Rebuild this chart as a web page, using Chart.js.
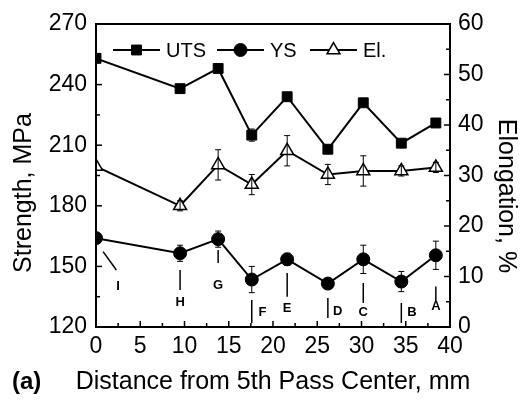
<!DOCTYPE html>
<html>
<head>
<meta charset="utf-8">
<script src="https://cdn.jsdelivr.net/npm/chart.js@4.4.1/dist/chart.umd.min.js"></script>
<style>
  html, body { margin: 0; padding: 0; background: #fff; }
  #wrap { width: 521px; height: 401px; }
</style>
</head>
<body>
<div id="wrap"><canvas id="c" width="521" height="401"></canvas></div>
<script>
// distance of each sample from the 5th pass centre, mm
const distance = [0, 9.5, 13.8, 17.6, 21.6, 26.2, 30.2, 34.5, 38.4];
// strength values, MPa
const uts = [253, 238, 248, 215, 234, 208, 231, 211, 221];
const utsErr = [0, 1, 1, 3, 2, 1, 1, 1, 1];
const ys = [164, 156.5, 163.5, 143.5, 153.5, 141.5, 153.5, 142.5, 155.5];
const ysErr = [0, 4, 4, 6.5, 3, 2, 7, 5, 7];
// elongation, %
const elong = [31.8, 24, 32.1, 28.2, 34.9, 30.2, 30.9, 30.9, 31.6];
const elongErr = [0, 1, 3, 2, 3, 2, 3, 1, 1];
// sample location letters
const locations = ['I', 'H', 'G', 'F', 'E', 'D', 'C', 'B', 'A'];

const FONT = '"Liberation Sans", Arial, sans-serif';

// where the letter pointers go (data units of x and left y axis)
const pointers = [
  {x1: 0.8, y1: 157.3, x2: 2.3, y2: 148.2, tx: 2.5, ty: 140},
  {x1: 9.5, y1: 148.2, x2: 9.5, y2: 138.3, tx: 9.5, ty: 132.4},
  {x1: 13.8, y1: 158.1, x2: 13.8, y2: 151.7, tx: 13.8, ty: 140.5},
  {x1: 17.6, y1: 133.4, x2: 17.6, y2: 122, tx: 18.8, ty: 127},
  {x1: 21.6, y1: 146.7, x2: 21.6, y2: 135, tx: 21.6, ty: 129.4},
  {x1: 26.2, y1: 134.4, x2: 26.2, y2: 124.5, tx: 27.3, ty: 127.6},
  {x1: 30.2, y1: 141.8, x2: 30.2, y2: 131.9, tx: 30.2, ty: 127.1},
  {x1: 34.5, y1: 131.9, x2: 34.5, y2: 122, tx: 35.7, ty: 127.1},
  {x1: 38.4, y1: 140, x2: 38.4, y2: 132.5, tx: 38.4, ty: 130}
];

const errors = [utsErr, ysErr, elongErr];

function pts(ys) {
  return distance.map((d, i) => ({x: d, y: ys[i]}));
}

// box, inward ticks, error bars, pointers, legend, axis titles
const decor = {
  id: 'decor',
  afterDatasetsDraw(chart) {
    const ctx = chart.ctx;
    const a = chart.chartArea;
    const sx = chart.scales.x, sy = chart.scales.y, sy2 = chart.scales.y2;
    ctx.save();
    ctx.strokeStyle = '#000';
    ctx.fillStyle = '#000';

    // error bars
    ctx.lineWidth = 1;
    chart.data.datasets.forEach((ds, k) => {
      const scale = chart.scales[ds.yAxisID];
      ds.data.forEach((p, i) => {
        const e = errors[k][i];
        if (!e) return;
        const px = sx.getPixelForValue(p.x);
        const top = scale.getPixelForValue(p.y + e);
        const bot = scale.getPixelForValue(p.y - e);
        ctx.beginPath();
        ctx.moveTo(px, top); ctx.lineTo(px, bot);
        ctx.moveTo(px - 3, top); ctx.lineTo(px + 3, top);
        ctx.moveTo(px - 3, bot); ctx.lineTo(px + 3, bot);
        ctx.stroke();
      });
    });

    // frame
    ctx.lineWidth = 2;
    ctx.strokeRect(a.left, a.top, a.right - a.left, a.bottom - a.top);

    // inward ticks
    ctx.lineWidth = 1.5;
    const tk = (scale, step, horiz, from, dir) => {
      for (let v = scale.min; v <= scale.max + 1e-6; v += step / 2) {
        const major = Math.abs(Math.round(v / step) * step - v) < 1e-6;
        const len = major ? 6 : 4;
        const p = scale.getPixelForValue(v);
        ctx.beginPath();
        if (horiz) { ctx.moveTo(p, from); ctx.lineTo(p, from + dir * len); }
        else { ctx.moveTo(from, p); ctx.lineTo(from + dir * len, p); }
        ctx.stroke();
      }
    };
    tk(sx, 5, true, a.bottom, -1);
    tk(sy, 30, false, a.left, 1);
    tk(sy2, 10, false, a.right, -1);

    // sample location pointers
    ctx.lineWidth = 1.5;
    ctx.font = 'bold 13px ' + FONT;
    ctx.textAlign = 'center';
    ctx.textBaseline = 'middle';
    pointers.forEach((p, i) => {
      ctx.beginPath();
      ctx.moveTo(sx.getPixelForValue(p.x1), sy.getPixelForValue(p.y1));
      ctx.lineTo(sx.getPixelForValue(p.x2), sy.getPixelForValue(p.y2));
      ctx.stroke();
      ctx.fillText(locations[i], sx.getPixelForValue(p.tx), sy.getPixelForValue(p.ty));
    });

    // legend: line - marker - line, then label
    const starts = [113, 217, 310];
    ctx.font = '20px ' + FONT;
    ctx.textAlign = 'left';
    chart.data.datasets.forEach((ds, k) => {
      const x0 = starts[k], y0 = 50, w = 47;
      ctx.lineWidth = 2;
      ctx.strokeStyle = '#000';
      ctx.beginPath(); ctx.moveTo(x0, y0); ctx.lineTo(x0 + w, y0); ctx.stroke();
      ctx.fillStyle = ds.pointBackgroundColor;
      ctx.lineWidth = ds.pointBorderWidth;
      Chart.helpers.drawPoint(ctx, {pointStyle: ds.pointStyle, radius: ds.pointRadius, rotation: 0, borderWidth: ds.pointBorderWidth}, x0 + w / 2, y0);
      ctx.fillStyle = '#000';
      ctx.fillText(ds.label, x0 + w + 6, y0 + 1);
    });

    // axis titles
    ctx.font = '25px ' + FONT;
    ctx.textAlign = 'center';
    ctx.fillText('Distance from 5th Pass Center, mm', (a.left + a.right) / 2, 382);
    ctx.save();
    ctx.translate(24, 193);
    ctx.rotate(-Math.PI / 2);
    ctx.fillText('Strength, MPa', 0, 0);
    ctx.restore();
    ctx.save();
    ctx.translate(506, 196);
    ctx.rotate(Math.PI / 2);
    ctx.fillText('Elongation, %', 0, 0);
    ctx.restore();

    // panel tag
    ctx.font = 'bold 24px ' + FONT;
    ctx.textAlign = 'left';
    ctx.fillText('(a)', 12, 382);
    ctx.restore();
  }
};

const fixW = (w) => (scale) => { scale.width = w; };
const tickFont = {family: FONT, size: 23};

new Chart(document.getElementById('c'), {
  type: 'scatter',
  plugins: [decor],
  data: {
    datasets: [
      {label: 'UTS', data: pts(uts), yAxisID: 'y', showLine: true, borderColor: '#000', borderWidth: 2,
       pointStyle: 'rect', pointRadius: 7, pointBackgroundColor: '#000', pointBorderColor: '#000', pointBorderWidth: 1},
      {label: 'YS', data: pts(ys), yAxisID: 'y', showLine: true, borderColor: '#000', borderWidth: 2,
       pointStyle: 'circle', pointRadius: 6.5, pointBackgroundColor: '#000', pointBorderColor: '#000', pointBorderWidth: 1},
      {label: 'El.', data: pts(elong), yAxisID: 'y2', showLine: true, borderColor: '#000', borderWidth: 2,
       pointStyle: 'triangle', pointRadius: 7.5, pointBackgroundColor: '#fff', pointBorderColor: '#000', pointBorderWidth: 1.5}
    ]
  },
  options: {
    responsive: false,
    animation: false,
    layout: {padding: {top: 24, left: 0, right: 0, bottom: 0}},
    plugins: {legend: {display: false}, tooltip: {enabled: false}},
    scales: {
      x: {
        type: 'linear', min: 0, max: 40,
        afterFit: (s) => { s.height = 74; },
        grid: {display: false, drawTicks: false},
        border: {display: false},
        ticks: {stepSize: 5, padding: 6, color: '#000', font: tickFont}
      },
      y: {
        position: 'left', min: 120, max: 270,
        afterFit: fixW(96),
        grid: {display: false, drawTicks: false},
        border: {display: false},
        ticks: {stepSize: 30, padding: 9, color: '#000', font: tickFont}
      },
      y2: {
        position: 'right', min: 0, max: 60,
        afterFit: fixW(71),
        grid: {display: false, drawTicks: false},
        border: {display: false},
        ticks: {stepSize: 10, padding: 8, color: '#000', font: tickFont}
      }
    }
  }
});
</script>
</body>
</html>
